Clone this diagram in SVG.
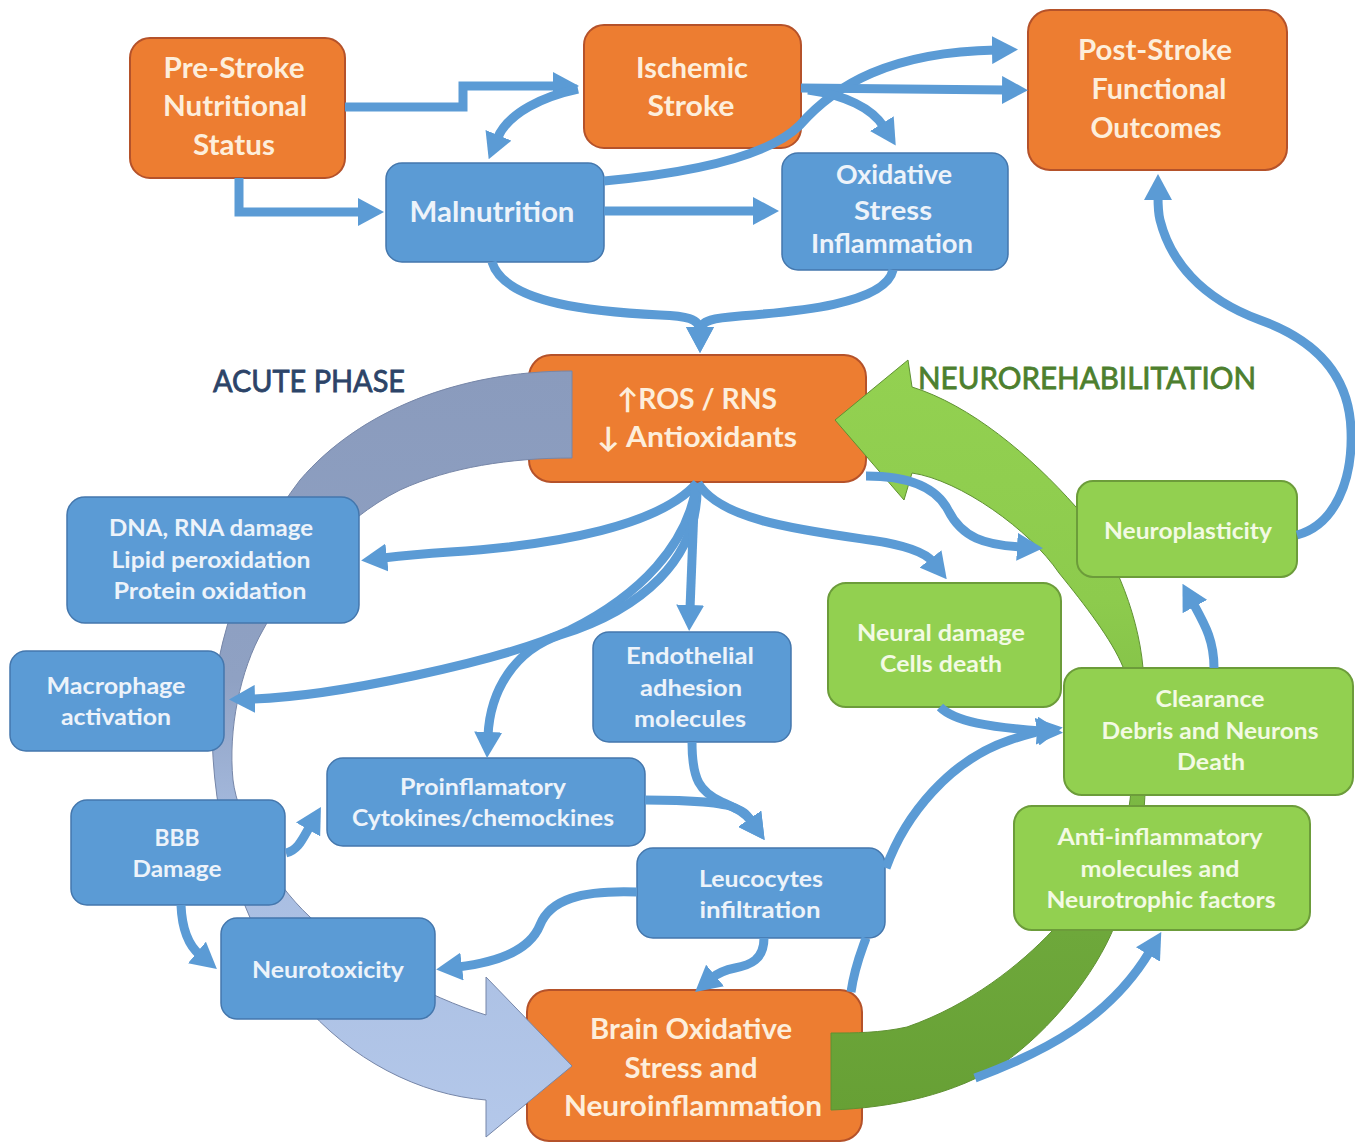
<svg xmlns="http://www.w3.org/2000/svg" width="1355" height="1144" viewBox="0 0 1355 1144">
<defs>
<style>
.ob{fill:#ed7d31;stroke:#b5522a;stroke-width:2}
.bb{fill:#5b9bd5;stroke:#4477ad;stroke-width:1.5}
.gb{fill:#92d050;stroke:#6c9c3a;stroke-width:2}
.t{font-family:Lato,"Open Sans","Liberation Sans",sans-serif;font-weight:700;text-anchor:middle}
.to{fill:#fdeedb}
.tb{fill:#edf3fa}
.tg{fill:#f3fae4}
.s28{font-size:28px}
.s26{font-size:26px}
.s29{font-size:29px}
.s23{font-size:23px}
.c{fill:none;stroke:#5b9bd5;stroke-width:9}
.lab{font-family:Lato,"Open Sans","Liberation Sans",sans-serif;font-weight:400;font-size:30px;text-anchor:middle;stroke-width:0.8}
</style>
<marker id="ah" markerUnits="userSpaceOnUse" markerWidth="26" markerHeight="28" viewBox="0 0 26 28" refX="4" refY="14" orient="auto"><path d="M0,0 L26,14 L0,28 z" fill="#5b9bd5"/></marker>
<linearGradient id="gAcute" gradientUnits="userSpaceOnUse" x1="0" y1="371" x2="0" y2="1140">
<stop offset="0" stop-color="#8a9bbd"/><stop offset="0.4" stop-color="#8fa1c3"/><stop offset="0.6" stop-color="#a7bce0"/><stop offset="1" stop-color="#b4c8ea"/>
</linearGradient>
<linearGradient id="gRehab" gradientUnits="userSpaceOnUse" x1="0" y1="1110" x2="0" y2="360">
<stop offset="0" stop-color="#67a035"/><stop offset="0.24" stop-color="#6ea83b"/><stop offset="0.43" stop-color="#7dba44"/><stop offset="0.68" stop-color="#8dcb4d"/><stop offset="1" stop-color="#93d151"/>
</linearGradient>
</defs>
<rect width="1355" height="1144" fill="#ffffff"/>

<g id="node-ros">
<rect class="ob" x="529" y="355" width="337" height="127" rx="22"/>
<text class="t to s28" x="697" y="409" textLength="160" lengthAdjust="spacingAndGlyphs">↑ROS / RNS</text>
<text class="t to s28" x="697" y="447" textLength="200" lengthAdjust="spacingAndGlyphs">↓ Antioxidants</text>
</g>
<g id="node-brain">
<rect class="ob" x="527" y="990" width="335" height="151" rx="22"/>
<text class="t to s29" x="691" y="1039" textLength="202" lengthAdjust="spacingAndGlyphs">Brain Oxidative</text>
<text class="t to s29" x="691" y="1078" textLength="133" lengthAdjust="spacingAndGlyphs">Stress and</text>
<text class="t to s29" x="693" y="1116" textLength="258" lengthAdjust="spacingAndGlyphs">Neuroinflammation</text>
</g>

<g id="phase-arrows">
<path id="acute-arrow" fill="url(#gAcute)" stroke="#7686a8" stroke-width="1" d="M572,371 C460,371 360,410 300,480 C250,545 213,640 212,720 C211,820 240,930 300,1000 C350,1060 420,1095 486,1100 L486,1137 L572,1066 L486,977 L486,1015 C430,998 350,955 310,917 C270,880 238,820 233,780 C228,730 240,670 263,630 C290,580 340,520 400,490 C450,467 510,458 572,458 Z"/>
<path id="rehab-arrow" fill="url(#gRehab)" stroke="#5f9132" stroke-width="1" d="M831,1110 C890,1108 955,1095 1005,1062 C1050,1030 1095,975 1115,925 C1130,880 1145,830 1145,790 C1146,740 1147,700 1143,668 C1138,610 1110,545 1076,507 C1030,455 970,405 912,387 L908,360 L835,420 L904,500 L912,473 C960,480 1030,530 1059,573 C1085,605 1112,640 1123,667 C1135,700 1135,760 1130,800 C1125,850 1090,900 1053,930 C1020,965 970,1005 907,1027 C880,1033 855,1033 831,1033 Z"/>
</g>

<g id="node-prestroke">
<rect class="ob" x="130" y="38" width="215" height="140" rx="20"/>
<text class="t to s28" x="234" y="78" textLength="141" lengthAdjust="spacingAndGlyphs">Pre-Stroke</text>
<text class="t to s28" x="235" y="116" textLength="144" lengthAdjust="spacingAndGlyphs">Nutritional</text>
<text class="t to s28" x="234" y="155" textLength="82" lengthAdjust="spacingAndGlyphs">Status</text>
</g>
<g id="node-ischemic">
<rect class="ob" x="584" y="25" width="217" height="123" rx="20"/>
<text class="t to s28" x="692" y="78" textLength="112" lengthAdjust="spacingAndGlyphs">Ischemic</text>
<text class="t to s28" x="691" y="116" textLength="87" lengthAdjust="spacingAndGlyphs">Stroke</text>
</g>
<g id="node-poststroke">
<rect class="ob" x="1028" y="10" width="259" height="160" rx="22"/>
<text class="t to s28" x="1155" y="60" textLength="154" lengthAdjust="spacingAndGlyphs">Post-Stroke</text>
<text class="t to s28" x="1159" y="99" textLength="135" lengthAdjust="spacingAndGlyphs">Functional</text>
<text class="t to s28" x="1156" y="138" textLength="131" lengthAdjust="spacingAndGlyphs">Outcomes</text>
</g>
<g id="node-malnutrition">
<rect class="bb" x="386" y="163" width="218" height="99" rx="16"/>
<text class="t tb s28" x="492" y="222" textLength="165" lengthAdjust="spacingAndGlyphs">Malnutrition</text>
</g>
<g id="node-oxidative">
<rect class="bb" x="782" y="153" width="226" height="117" rx="16"/>
<text class="t tb s26" x="894" y="184" textLength="116" lengthAdjust="spacingAndGlyphs">Oxidative</text>
<text class="t tb s26" x="893" y="220" textLength="78" lengthAdjust="spacingAndGlyphs">Stress</text>
<text class="t tb s26" x="892" y="253" textLength="162" lengthAdjust="spacingAndGlyphs">Inflammation</text>
</g>
<g id="node-dna">
<rect class="bb" x="67" y="497" width="292" height="126" rx="18"/>
<text class="t tb s23" x="211" y="536" textLength="204" lengthAdjust="spacingAndGlyphs">DNA, RNA damage</text>
<text class="t tb s23" x="211" y="568" textLength="199" lengthAdjust="spacingAndGlyphs">Lipid peroxidation</text>
<text class="t tb s23" x="210" y="599" textLength="193" lengthAdjust="spacingAndGlyphs">Protein oxidation</text>
</g>
<g id="node-macrophage">
<rect class="bb" x="10" y="651" width="214" height="100" rx="16"/>
<text class="t tb s23" x="116" y="694" textLength="139" lengthAdjust="spacingAndGlyphs">Macrophage</text>
<text class="t tb s23" x="116" y="725" textLength="110" lengthAdjust="spacingAndGlyphs">activation</text>
</g>
<g id="node-endothelial">
<rect class="bb" x="593" y="632" width="198" height="110" rx="16"/>
<text class="t tb s23" x="690" y="664" textLength="128" lengthAdjust="spacingAndGlyphs">Endothelial</text>
<text class="t tb s23" x="691" y="696" textLength="102" lengthAdjust="spacingAndGlyphs">adhesion</text>
<text class="t tb s23" x="690" y="727" textLength="112" lengthAdjust="spacingAndGlyphs">molecules</text>
</g>
<g id="node-proinflamatory">
<rect class="bb" x="327" y="758" width="318" height="88" rx="16"/>
<text class="t tb s23" x="483" y="795" textLength="166" lengthAdjust="spacingAndGlyphs">Proinflamatory</text>
<text class="t tb s23" x="483" y="826" textLength="262" lengthAdjust="spacingAndGlyphs">Cytokines/chemockines</text>
</g>
<g id="node-bbb">
<rect class="bb" x="71" y="800" width="214" height="105" rx="16"/>
<text class="t tb s23" x="177" y="846" textLength="45" lengthAdjust="spacingAndGlyphs">BBB</text>
<text class="t tb s23" x="177" y="877" textLength="89" lengthAdjust="spacingAndGlyphs">Damage</text>
</g>
<g id="node-leucocytes">
<rect class="bb" x="637" y="848" width="248" height="90" rx="16"/>
<text class="t tb s23" x="761" y="887" textLength="124" lengthAdjust="spacingAndGlyphs">Leucocytes</text>
<text class="t tb s23" x="760" y="918" textLength="121" lengthAdjust="spacingAndGlyphs">infiltration</text>
</g>
<g id="node-neurotoxicity">
<rect class="bb" x="221" y="918" width="214" height="101" rx="16"/>
<text class="t tb s23" x="328" y="978" textLength="152" lengthAdjust="spacingAndGlyphs">Neurotoxicity</text>
</g>
<g id="node-neural">
<rect class="gb" x="828" y="583" width="233" height="124" rx="18"/>
<text class="t tg s23" x="941" y="641" textLength="168" lengthAdjust="spacingAndGlyphs">Neural damage</text>
<text class="t tg s23" x="941" y="672" textLength="122" lengthAdjust="spacingAndGlyphs">Cells death</text>
</g>
<g id="node-neuroplasticity">
<rect class="gb" x="1077" y="481" width="220" height="96" rx="16"/>
<text class="t tg s23" x="1188" y="539" textLength="168" lengthAdjust="spacingAndGlyphs">Neuroplasticity</text>
</g>
<g id="node-clearance">
<rect class="gb" x="1064" y="668" width="289" height="127" rx="18"/>
<text class="t tg s23" x="1210" y="707" textLength="109" lengthAdjust="spacingAndGlyphs">Clearance</text>
<text class="t tg s23" x="1210" y="739" textLength="217" lengthAdjust="spacingAndGlyphs">Debris and Neurons</text>
<text class="t tg s23" x="1211" y="770" textLength="68" lengthAdjust="spacingAndGlyphs">Death</text>
</g>
<g id="node-antiinflammatory">
<rect class="gb" x="1014" y="806" width="296" height="124" rx="18"/>
<text class="t tg s23" x="1160" y="845" textLength="205" lengthAdjust="spacingAndGlyphs">Anti-inflammatory</text>
<text class="t tg s23" x="1160" y="877" textLength="159" lengthAdjust="spacingAndGlyphs">molecules and</text>
<text class="t tg s23" x="1161" y="908" textLength="229" lengthAdjust="spacingAndGlyphs">Neurotrophic factors</text>
</g>

<g id="connectors" class="c">
<path class="c" stroke-linejoin="miter" d="M345,107 H463 V86 H557" marker-end="url(#ah)"/>
<path class="c" stroke-linejoin="miter" d="M239,178 V212 H362" marker-end="url(#ah)"/>
<path class="c" d="M578,89 C545,96 508,112 497,139" marker-end="url(#ah)"/>
<path class="c" d="M604,181 C700,172 770,155 800,125 C835,85 890,52 996,50" marker-end="url(#ah)"/>
<path class="c" d="M801,88 L1006,90" marker-end="url(#ah)"/>
<path class="c" d="M808,90 C845,95 872,108 884,127" marker-end="url(#ah)"/>
<path class="c" d="M604,211 H757" marker-end="url(#ah)"/>
<path class="c" d="M492,262 C505,305 600,312 660,315 C685,316 700,318 700,331" marker-end="url(#ah)"/>
<path class="c" d="M893,270 C885,305 790,312 740,316 C715,318 700,320 700,331" marker-end="url(#ah)"/>
<path class="c" d="M697,483 C660,525 560,545 450,552 C420,554 400,556 383,558" marker-end="url(#ah)"/>
<path class="c" d="M697,483 C688,545 640,595 570,630 C500,662 330,697 251,699" marker-end="url(#ah)"/>
<path class="c" d="M697,483 C700,560 640,610 560,635 C515,650 490,690 488,736" marker-end="url(#ah)"/>
<path class="c" d="M695,483 L690,609" marker-end="url(#ah)"/>
<path class="c" d="M698,483 C720,520 800,530 870,540 C905,545 925,552 933,562" marker-end="url(#ah)"/>
<path class="c" d="M866,476 C905,476 935,485 948,510 C962,538 985,545 1021,547" marker-end="url(#ah)"/>
<path class="c" d="M692,742 C692,780 700,792 722,802 C735,808 745,812 752,822" marker-end="url(#ah)"/>
<path class="c" d="M645,800 C690,800 725,803 735,808 C742,811 745,812 752,822" marker-end="url(#ah)"/>
<path class="c" d="M286,853 C298,850 302,840 310,826" marker-end="url(#ah)"/>
<path class="c" d="M181,905 C182,930 188,945 200,955" marker-end="url(#ah)"/>
<path class="c" d="M637,892 C580,890 550,900 540,925 C530,950 500,962 458,967" marker-end="url(#ah)"/>
<path class="c" d="M764,938 C764,960 750,965 735,968 C725,970 718,973 712,978" marker-end="url(#ah)"/>
<path class="c" d="M851,992 C855,965 862,950 866,938"/>
<path class="c" d="M886,868 C905,815 950,760 1010,740 C1025,735 1035,732 1041,731" marker-end="url(#ah)"/>
<path class="c" d="M940,707 C955,722 990,727 1041,731" marker-end="url(#ah)"/>
<path class="c" d="M975,1078 C1045,1052 1110,1018 1150,951" marker-end="url(#ah)"/>
<path class="c" d="M1214,668 C1214,640 1205,625 1193,603" marker-end="url(#ah)"/>
<path class="c" d="M1297,535 C1335,525 1353,480 1351,430 C1349,370 1310,338 1260,320 C1200,298 1170,260 1160,220 C1158,212 1158,205 1158,196" marker-end="url(#ah)"/>
</g>

<g id="phase-labels">
<text class="lab" x="309" y="392" fill="#2c4468" stroke="#2c4468" textLength="192" lengthAdjust="spacingAndGlyphs">ACUTE PHASE</text>
<text class="lab" x="1087" y="389" fill="#4d7f2e" stroke="#4d7f2e" textLength="338" lengthAdjust="spacingAndGlyphs">NEUROREHABILITATION</text>
</g>
</svg>
